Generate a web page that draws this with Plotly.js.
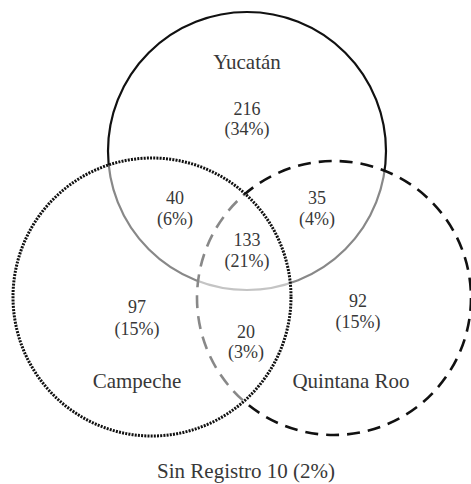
<!DOCTYPE html>
<html>
<head>
<meta charset="utf-8">
<script src="https://cdn.plot.ly/plotly-3.0.1.min.js"></script>
<style>html,body{margin:0;padding:0;background:#fff;}#chart{width:471px;height:484px;}</style>
</head>
<body>
<div id="chart"></div>
<script>
// ---- Data ----
const setNames = ['Yucatán', 'Campeche', 'Quintana Roo'];
const regionKeys = ['Y', 'YC', 'YQ', 'YCQ', 'C', 'CQ', 'Q'];
const regionCounts = [216, 40, 35, 133, 97, 20, 92];
const regionPcts = [34, 6, 4, 21, 15, 3, 15];
const noRecordLabel = 'Sin Registro';
const noRecordCount = 10;
const noRecordPct = 2;

// ---- Layout (positions in pixel-like plot coordinates) ----
const circles = {
  Y: {cx: 247, cy: 151, r: 139, dash: 'solid', width: 2.2, fill: 'rgba(0,0,0,0)'},
  Q: {cx: 334, cy: 298, r: 137, dash: '13px,8px', width: 2.6, fill: 'rgba(255,255,255,0.5)'},
  C: {cx: 152, cy: 297, r: 139, dash: '2px,1.2px', width: 3, fill: 'rgba(255,255,255,0.5)'}
};
const namePos = {
  'Yucatán': [247, 64], 'Campeche': [137, 383], 'Quintana Roo': [351, 383]
};
const regionPos = {
  Y: [247, 110, 130], YC: [175, 199, 220], YQ: [317, 199, 220],
  YCQ: [247, 241, 262], C: [137, 308, 330], CQ: [246, 333, 353], Q: [358, 302, 323]
};
const footPos = [246, 473];

const fontFam = '"Liberation Serif", "DejaVu Serif", serif';
const txtColor = '#383838';

const shapes = ['Y', 'Q', 'C'].map(k => {
  const c = circles[k];
  return {
    type: 'circle', xref: 'x', yref: 'y', layer: 'below',
    x0: c.cx - c.r, x1: c.cx + c.r, y0: c.cy - c.r, y1: c.cy + c.r,
    line: {color: '#111', width: c.width, dash: c.dash},
    fillcolor: c.fill
  };
});

const countTrace = {
  type: 'scatter', mode: 'text', hoverinfo: 'skip', showlegend: false,
  x: regionKeys.map(k => regionPos[k][0]),
  y: regionKeys.map(k => regionPos[k][1]),
  text: regionCounts.map(String),
  textposition: 'middle center',
  textfont: {family: fontFam, size: 18, color: txtColor}
};
const pctTrace = {
  type: 'scatter', mode: 'text', hoverinfo: 'skip', showlegend: false,
  x: regionKeys.map(k => regionPos[k][0]),
  y: regionKeys.map(k => regionPos[k][2]),
  text: regionPcts.map(p => '(' + p + '%)'),
  textposition: 'middle center',
  textfont: {family: fontFam, size: 18, color: txtColor}
};
const nameTrace = {
  type: 'scatter', mode: 'text', hoverinfo: 'skip', showlegend: false,
  x: setNames.map(n => namePos[n][0]),
  y: setNames.map(n => namePos[n][1]),
  text: setNames,
  textposition: 'middle center',
  textfont: {family: fontFam, size: 21, color: txtColor}
};
const footTrace = {
  type: 'scatter', mode: 'text', hoverinfo: 'skip', showlegend: false,
  x: [footPos[0]], y: [footPos[1]],
  text: [noRecordLabel + ' ' + noRecordCount + ' (' + noRecordPct + '%)'],
  textposition: 'middle center',
  textfont: {family: fontFam, size: 21, color: txtColor}
};

const layout = {
  width: 471, height: 484,
  margin: {l: 0, r: 0, t: 0, b: 0},
  paper_bgcolor: '#fff', plot_bgcolor: '#fff',
  xaxis: {range: [0, 471], visible: false, fixedrange: true},
  yaxis: {range: [484, 0], visible: false, fixedrange: true},
  shapes: shapes,
  showlegend: false
};

Plotly.newPlot('chart', [countTrace, pctTrace, nameTrace, footTrace], layout, {displayModeBar: false, staticPlot: true});
</script>
</body>
</html>
